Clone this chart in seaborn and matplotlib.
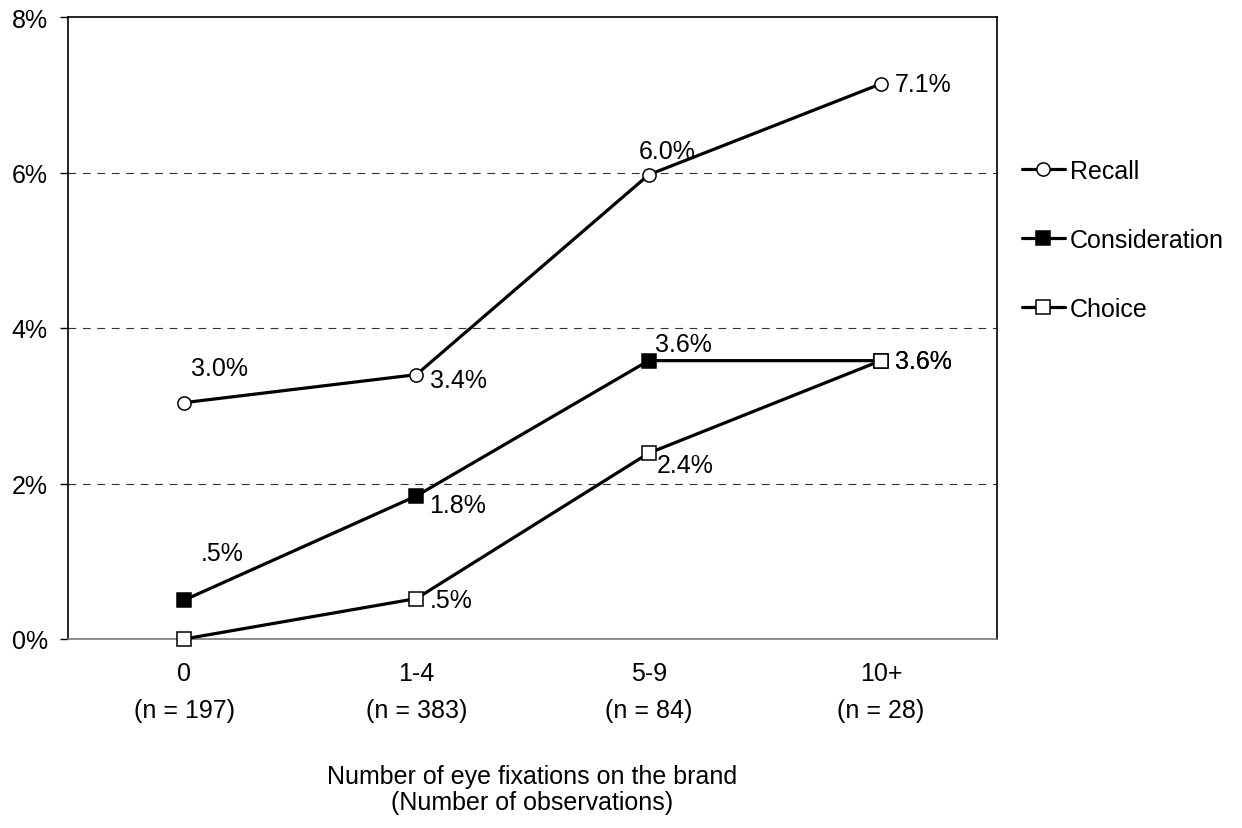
import matplotlib
matplotlib.use("Agg")
import matplotlib.pyplot as plt
import matplotlib.transforms as mtransforms
from matplotlib.lines import Line2D
import seaborn as sns
import pandas as pd

# Categories and sample sizes
categories = ["0", "1-4", "5-9", "10+"]
sample_sizes = [197, 383, 84, 28]

# Percent values per measure
recall = [3.04, 3.40, 5.97, 7.14]
consideration = [0.50, 1.84, 3.58, 3.58]
choice = [0.00, 0.52, 2.39, 3.58]

series_names = ["Recall", "Consideration", "Choice"]
series_values = [recall, consideration, choice]

# Which points carry a value label, and where (pixel offsets from the point)
label_offsets = {
    "Recall": [(35, 35), (14, -5), (19, 24), (14, 0)],
    "Consideration": [(38, 47), (13, -9), (35, 17), (14, 0)],
    "Choice": [None, (13, -1), (37, -12), (14, 0)],
}
label_ha = {
    "Recall": ["center", "left", "center", "left"],
    "Consideration": ["center", "left", "center", "left"],
    "Choice": ["center", "left", "center", "left"],
}

styles = {
    "Recall": dict(marker="o", markerfacecolor="white"),
    "Consideration": dict(marker="s", markerfacecolor="black"),
    "Choice": dict(marker="s", markerfacecolor="white"),
}

FS = 18

rows = []
for name, vals in zip(series_names, series_values):
    for i, v in enumerate(vals):
        rows.append({"pos": i, "value": v, "series": name})
df = pd.DataFrame(rows)

sns.set_theme(style="white")
plt.rcParams["font.family"] = ["Liberation Sans", "DejaVu Sans"]
plt.rcParams["text.color"] = "black"
plt.rcParams["xtick.color"] = "black"
plt.rcParams["ytick.color"] = "black"

fig = plt.figure(figsize=(12.42, 8.29), dpi=100)
ax = fig.add_axes([68 / 1242, 1 - 640 / 829, (997 - 68) / 1242, (640 - 18) / 829])

for name in series_names:
    sub = df[df["series"] == name]
    sns.lineplot(data=sub, x="pos", y="value", ax=ax, color="black",
                 linewidth=2.3, markersize=9.5, markeredgewidth=1.1,
                 markeredgecolor="black", legend=False, clip_on=False,
                 zorder=3, **styles[name])


def fmt(v):
    s = f"{v:.1f}"
    if s.startswith("0"):
        s = s[1:]
    return s + "%"


for name, vals in zip(series_names, series_values):
    for i, v in enumerate(vals):
        off = label_offsets[name][i]
        if off is None:
            continue
        ax.annotate(fmt(v), xy=(i, v), xytext=off, textcoords="offset pixels",
                    ha=label_ha[name][i], va="center", fontsize=FS, color="black")

ax.set_xlim(-0.5, 3.5)
ax.set_ylim(0, 8)
ax.set_yticks([0, 2, 4, 6, 8])
ax.set_yticklabels([f"{t}%" for t in [0, 2, 4, 6, 8]], fontsize=FS)
ax.set_xticks(range(len(categories)))
ax.set_xticklabels(categories, fontsize=FS)
ax.tick_params(axis="y", which="both", left=True, length=6, width=1, pad=8.5,
               color="black", labelcolor="black")
ax.tick_params(axis="x", length=0, pad=16, labelcolor="black")
ax.set_xlabel("")
ax.set_ylabel("")

for y in [2, 4, 6]:
    ax.axhline(y, color="#333333", linewidth=0.8, linestyle=(0, (7, 6)), zorder=0)

for side in ["top", "right", "left"]:
    ax.spines[side].set_color("black")
    ax.spines[side].set_linewidth(1.2)
ax.spines["bottom"].set_color("#777777")
ax.spines["bottom"].set_linewidth(1.2)

trans = mtransforms.blended_transform_factory(ax.transData, ax.transAxes)
for i, n in enumerate(sample_sizes):
    ax.text(i, -71 / 622, f"(n = {n})", transform=trans, ha="center",
            va="center", fontsize=FS, color="black")

ax.text(0.5, -150 / 622, "Number of eye fixations on the brand\n(Number of observations)",
        transform=ax.transAxes, ha="center", va="center", fontsize=FS,
        linespacing=1.1, color="black")

handles = [
    Line2D([], [], color="black", linewidth=2.3, markersize=9.5,
           markeredgewidth=1.1, markeredgecolor="black", **styles[n])
    for n in series_names
]
fig.legend(handles, series_names, loc="center left",
           bbox_to_anchor=(1012 / 1242, 1 - 241 / 829), frameon=False,
           fontsize=FS, handlelength=1.7, handletextpad=0.2,
           labelspacing=1.8, borderaxespad=0, labelcolor="black")

fig.savefig("out.png", dpi=100, facecolor="white")
